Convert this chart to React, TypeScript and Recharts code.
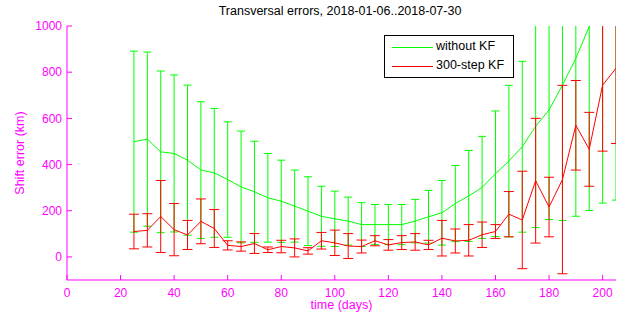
import { ErrorBar, Line, LineChart, XAxis, YAxis } from "recharts";

const DAYS = [
  25, 30, 35, 40, 45, 50, 55, 60, 65, 70, 75, 80, 85, 90, 95, 100, 105, 110, 115,
  120, 125, 130, 135, 140, 145, 150, 155, 160, 165, 170, 175, 180, 185, 190, 195,
  200, 205,
];

// without KF: mean and symmetric half-width
const NOKF_MEAN = [
  499, 510, 455, 448, 419, 376, 364, 335, 303, 282, 256, 241, 220, 198, 176, 165,
  155, 140, 140, 140, 140, 155, 174, 191, 231, 264, 301, 360, 415, 477, 566, 636,
  744, 860, 997, 1150, 1300,
];
const NOKF_ERR = [
  392, 377, 350, 340, 325, 296, 279, 250, 242, 219, 192, 178, 156, 149, 130, 120,
  104, 95, 87, 87, 87, 94, 114, 140, 165, 197, 221, 272, 328, 370, 439, 474, 586,
  684, 796, 917, 1054,
];

// 300-step KF
const KF_MEAN = [
  110, 115, 175, 118, 95, 154, 123, 50, 45, 58, 31, 45, 39, 26, 70, 61, 47, 45, 70,
  52, 62, 65, 52, 81, 69, 72, 96, 110, 185, 160, 330, 216, 335, 570, 466, 744, 817,
];
const KF_ERR = [
  75, 72, 156, 113, 63, 97, 82, 20, 20, 43, 12, 27, 39, 14, 36, 55, 54, 28, 22, 23,
  30, 36, 20, 77, 52, 68, 55, 30, 98, 211, 270, 129, 408, 194, 160, 286, 326,
];

const X_TICKS = [0, 20, 40, 60, 80, 100, 120, 140, 160, 180, 200];
const Y_TICKS = [0, 200, 400, 600, 800, 1000];

const MAGENTA = "#ff00ff";
const GREEN = "#00ff00";
const RED = "#ff0000";
const FONT = "'Liberation Sans', Arial, sans-serif";

const rows = DAYS.map((d, i) => ({
  day: d,
  noKf: NOKF_MEAN[i],
  noKfErr: NOKF_ERR[i],
  kf: KF_MEAN[i],
  kfErr: KF_ERR[i],
}));

// matlab-style ticks point into the plot
const X_GAP = 8;
const Y_GAP = 5;

function XTick(props: any) {
  const { x, y, payload } = props;
  return (
    <g>
      <line x1={x} x2={x} y1={y - X_GAP} y2={y - X_GAP - 5} stroke={MAGENTA} />
      <text x={x} y={y} dy="0.71em" textAnchor="middle" fill={MAGENTA} fontSize={12} fontFamily={FONT}>
        {payload.value}
      </text>
    </g>
  );
}

function YTick(props: any) {
  const { x, y, payload } = props;
  return (
    <g>
      <line x1={x + Y_GAP} x2={x + Y_GAP + 5} y1={y} y2={y} stroke={MAGENTA} />
      <text x={x} y={y} dy="0.355em" textAnchor="end" fill={MAGENTA} fontSize={12} fontFamily={FONT}>
        {payload.value}
      </text>
    </g>
  );
}

export default function App() {
  return (
    <div style={{ position: "absolute", left: 0, top: 0, width: 630, height: 323, background: "#fff", fontFamily: FONT }}>
      {/* error bars are not clipped by recharts, so clip them to the plot box */}
      <style>{`.recharts-errorBars, .recharts-errorBar { clip-path: url(#plotClip); }`}</style>
      <svg width={0} height={0} style={{ position: "absolute" }}>
        <defs>
          <clipPath id="plotClip" clipPathUnits="userSpaceOnUse">
            <rect x={60} y={26} width={556} height={260} />
          </clipPath>
        </defs>
      </svg>

      <LineChart width={630} height={323} data={rows} margin={{ top: 26, right: 14, bottom: 13, left: 20 }}>
        <XAxis
          dataKey="day"
          type="number"
          domain={[0, 205]}
          ticks={X_TICKS}
          allowDataOverflow
          height={30}
          stroke={MAGENTA}
          tickLine={false}
          tickSize={0}
          tickMargin={X_GAP}
          tick={XTick}
        />
        <YAxis
          type="number"
          domain={[-100, 1000]}
          ticks={Y_TICKS}
          allowDataOverflow
          width={47}
          stroke={MAGENTA}
          tickLine={false}
          tickSize={0}
          tickMargin={Y_GAP}
          tick={YTick}
        />
        <Line dataKey="noKf" stroke={GREEN} strokeWidth={1} dot={false} isAnimationActive={false}>
          <ErrorBar dataKey="noKfErr" width={4} stroke={GREEN} strokeWidth={1} direction="y" isAnimationActive={false} />
        </Line>
        <Line dataKey="kf" stroke={RED} strokeWidth={1} dot={false} isAnimationActive={false}>
          <ErrorBar dataKey="kfErr" width={5} stroke={RED} strokeWidth={1} direction="y" isAnimationActive={false} />
        </Line>
      </LineChart>

      <div style={{ position: "absolute", left: 0, width: 680, top: 4, textAlign: "center", fontSize: 12.5, color: "#000" }}>
        Transversal errors, 2018-01-06..2018-07-30
      </div>
      <div style={{ position: "absolute", left: 0, width: 683, top: 298, textAlign: "center", fontSize: 12.5, color: MAGENTA }}>
        time (days)
      </div>
      <div
        style={{
          position: "absolute",
          left: 20,
          top: 153,
          transform: "translate(-50%, -50%) rotate(-90deg)",
          whiteSpace: "nowrap",
          fontSize: 12.5,
          color: MAGENTA,
        }}
      >
        Shift error (km)
      </div>

      <div
        style={{
          position: "absolute",
          left: 384,
          top: 35,
          width: 128,
          height: 41,
          border: "1px solid #000",
          background: "#fff",
          fontSize: 12.5,
        }}
      >
        <div style={{ position: "absolute", left: 7, top: 11, width: 41, borderTop: `1px solid ${GREEN}` }} />
        <div style={{ position: "absolute", left: 51, top: 3 }}>without KF</div>
        <div style={{ position: "absolute", left: 7, top: 30, width: 41, borderTop: `1px solid ${RED}` }} />
        <div style={{ position: "absolute", left: 51, top: 22 }}>300-step KF</div>
      </div>
    </div>
  );
}
